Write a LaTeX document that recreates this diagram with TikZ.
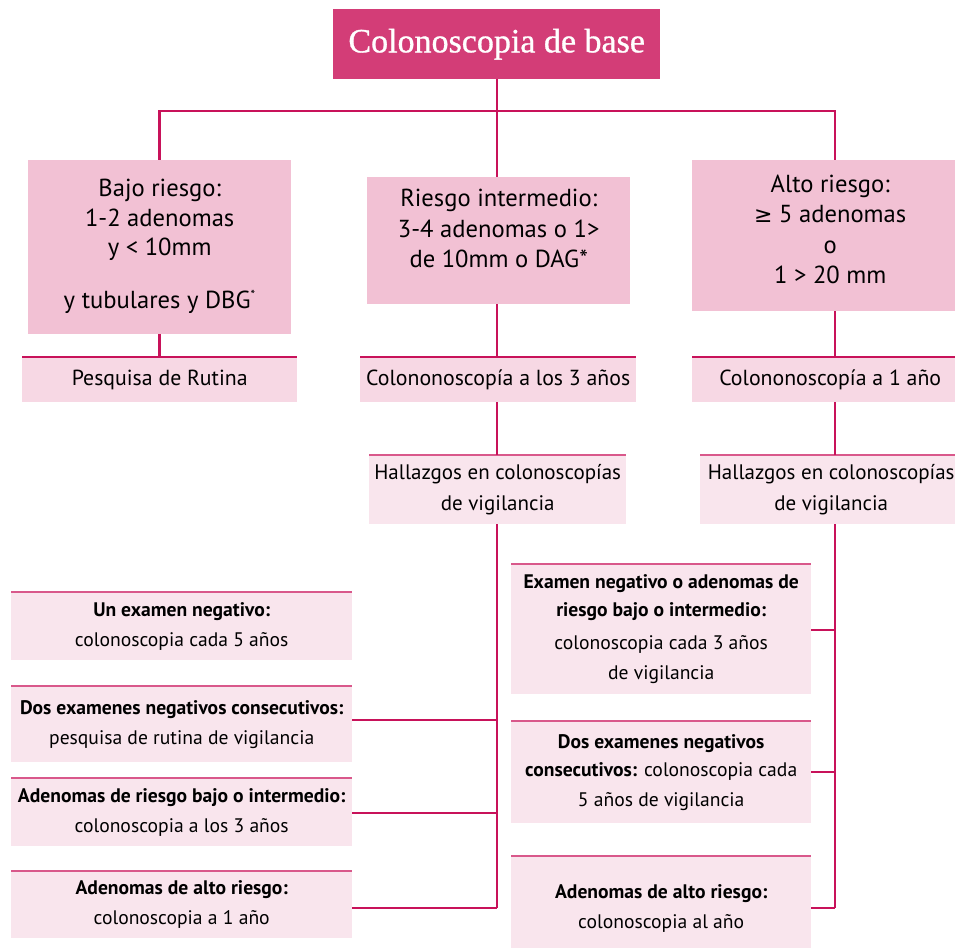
\documentclass[tikz,border=0pt]{standalone}
\usepackage{fontspec}
\setmainfont{PT Sans}
\newfontfamily\titlefont[FakeBold=0.9]{Liberation Serif}
\newfontfamily\symfont{DejaVu Sans}
\definecolor{titlefill}{HTML}{D33D77}
\definecolor{crim}{HTML}{C8125A}
\definecolor{topfill}{HTML}{F2C1D4}
\definecolor{midfill}{HTML}{F7D8E4}
\definecolor{lowfill}{HTML}{F9E5ED}
\definecolor{lowline}{HTML}{D9588B}
\tikzset{
  conn/.style={draw=crim, line width=2.6pt},
  topbox/.style={fill=topfill, inner sep=0pt, anchor=north west, align=center, font=\fontsize{24.6}{30.5}\selectfont},
  midbox/.style={fill=midfill, inner sep=0pt, anchor=north west, align=center, font=\fontsize{21.8}{27}\selectfont},
  hallbox/.style={fill=lowfill, inner sep=0pt, anchor=north west, align=center, font=\fontsize{21}{31}\selectfont},
  lowbox/.style={fill=lowfill, inner sep=0pt, anchor=north west, align=center, font=\fontsize{19.6}{30}\selectfont},
  midline/.style={draw=crim, line width=2.6pt},
  lowline/.style={draw=lowline, line width=2.2pt},
}
\begin{document}
\begin{tikzpicture}[x=1pt,y=-1pt]
\useasboundingbox (0,0) rectangle (955,949);
\clip (0,0) rectangle (955,949);
% title
\node[fill=titlefill, text=white, inner sep=0pt, anchor=north west, minimum width=327pt, minimum height=70pt, font=\titlefont\fontsize{34}{38}\selectfont] (title) at (333,9) {Colonoscopia de base};
% top boxes
\node[topbox, minimum width=263pt, minimum height=174pt] (bajo) at (28,160) {Bajo riesgo:\\[-1pt]1-2 adenomas\\[-1pt]y < 10mm\\[22pt]y tubulares y DBG\textsuperscript{\fontsize{13}{13}\selectfont *}\\[-24pt]};
\node[topbox, minimum width=263pt, minimum height=127pt] (inter) at (367,177) {Riesgo intermedio:\\3-4 adenomas o 1>\\de 10mm o DAG*\\[-6pt]};
\node[topbox, minimum width=276pt, minimum height=151pt] (alto) at (692,160) {Alto riesgo:\\{\symfont\fontsize{22}{30}\selectfont ≥} 5 adenomas\\o\\1 > 20 mm\\[-18pt]};
\coordinate (hub) at (497,111);
\coordinate (rx) at (835,111);
% middle boxes
\node[midbox, minimum width=275pt, minimum height=45pt] (rutina) at (22,357) {Pesquisa de Rutina};
\node[midbox, minimum width=276pt, minimum height=45pt] (col3) at (360,357) {Colononoscopía a los 3 años};
\node[midbox, minimum width=276pt, minimum height=45pt] (col1) at (692,357) {Colononoscopía a 1 año};
\draw[midline] (rutina.north west) -- (rutina.north east);
\draw[midline] (col3.north west) -- (col3.north east);
\draw[midline] (col1.north west) -- (col1.north east);
% hallazgos
\node[hallbox, minimum width=257pt, minimum height=69pt] (hall1) at (369,455) {Hallazgos en colonoscopías\\de vigilancia};
\node[hallbox, minimum width=262pt, minimum height=69pt] (hall2) at (700,455) {Hallazgos en colonoscopías\\de vigilancia};
\draw[lowline] (hall1.north west) -- (hall1.north east);
\draw[lowline] (hall2.north west) -- (hall2.north east);
% left lower boxes
\node[lowbox, minimum width=341pt, minimum height=68pt] (l1) at (11,592) {\textbf{Un examen negativo:}\\colonoscopia cada 5 años};
\node[lowbox, minimum width=341pt, minimum height=76pt] (l2) at (11,686) {\textbf{Dos examenes negativos consecutivos:}\\pesquisa de rutina de vigilancia};
\node[lowbox, minimum width=341pt, minimum height=68pt] (l3) at (11,778) {\textbf{Adenomas de riesgo bajo o intermedio:}\\colonoscopia a los 3 años};
\node[lowbox, minimum width=341pt, minimum height=67pt] (l4) at (11,871) {\textbf{Adenomas de alto riesgo:}\\colonoscopia a 1 año};
% right lower boxes
\node[lowbox, minimum width=300pt, minimum height=130pt] (r1) at (511,564) {\textbf{Examen negativo o adenomas de}\\[-2pt]\textbf{riesgo bajo o intermedio:}\\[3pt]colonoscopia cada 3 años\\de vigilancia};
\node[lowbox, minimum width=300pt, minimum height=102pt] (r2) at (511,721) {\textbf{Dos examenes negativos}\\[-2pt]\textbf{consecutivos:} colonoscopia cada\\5 años de vigilancia};
\node[lowbox, minimum width=300pt, minimum height=92pt] (r3) at (511,856) {\\[-4pt]\textbf{Adenomas de alto riesgo:}\\colonoscopia al año};
\foreach \n in {l1,l2,l3,l4,r1,r2,r3} {\draw[lowline] (\n.north west) -- (\n.north east);}
% connectors
\draw[conn] (title.south -| hub) -- (hub);
\draw[conn] (bajo.north) |- (hub) -| (rx) -- (alto.north -| rx);
\draw[conn] (hub) -- (inter.north -| hub);
\draw[conn] (bajo.south) -- (rutina.north -| bajo.south);
\draw[conn] (inter.south -| hub) -- (col3.north -| hub);
\draw[conn] (alto.south -| rx) -- (col1.north -| rx);
\draw[conn] (col3.south -| hub) -- (hall1.north -| hub);
\draw[conn] (col1.south -| rx) -- (hall2.north -| rx);
\coordinate (lend) at (497,908);
\coordinate (rend) at (835,908);
\draw[conn] (hall1.south -| hub) -- (lend);
\draw[conn] (hall2.south -| rx) -- (rend);
\draw[conn] (l2.east |- 0,720) -- (hub |- 0,720);
\draw[conn] (l3.east |- 0,813) -- (hub |- 0,813);
\draw[conn] (l4.east |- lend) -- (lend);
\draw[conn] (r1.east |- 0,630) -- (rx |- 0,630);
\draw[conn] (r2.east |- 0,772) -- (rx |- 0,772);
\draw[conn] (r3.east |- rend) -- (rend);
\end{tikzpicture}
\end{document}
